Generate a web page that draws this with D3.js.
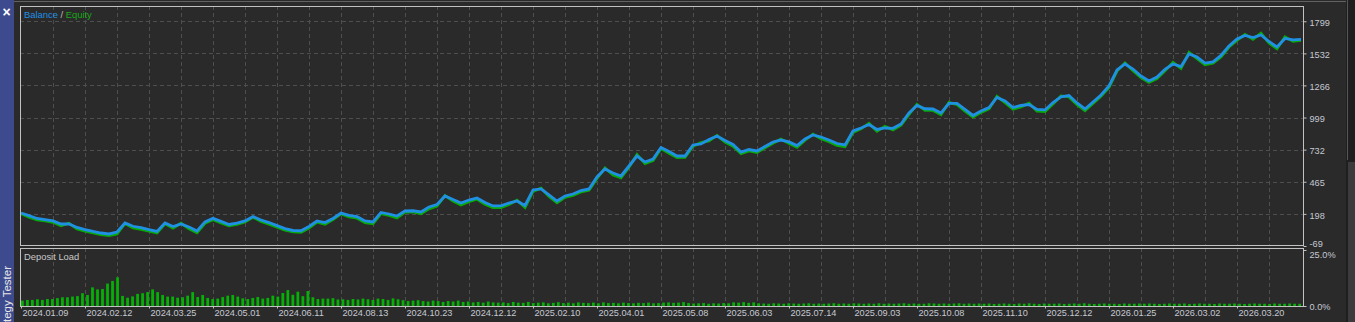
<!DOCTYPE html>
<html>
<head>
<meta charset="utf-8">
<script src="https://cdn.jsdelivr.net/npm/d3@7"></script>
<style>
    body { margin: 0; background: #2a2a2a; overflow: hidden; }
    text { font-family: "Liberation Sans", Arial, sans-serif; }
</style>
</head>
<body>
<div id="chart"></div>
<script>

var w = 1355,
    h = 322;

// balance per trade step
var balance = [
    205, 183, 160, 150, 139, 114, 114, 85, 68, 52, 39, 31, 47, 122, 95, 83,
    67, 52, 122, 93, 114, 89, 56, 131, 161, 136, 110, 122, 139, 176, 147, 126,
    100, 75, 60, 58, 93, 139, 126, 160, 205, 185, 175, 139, 131, 210, 197, 180,
    222, 224, 214, 255, 276, 347, 318, 288, 313, 330, 293, 264, 264, 288, 305, 268,
    397, 405, 355, 305, 347, 363, 392, 405, 505, 571, 538, 513, 596, 679, 629, 654,
    750, 717, 679, 679, 771, 779, 816, 845, 808, 775, 712, 733, 721, 758, 796, 812,
    796, 766, 820, 854, 837, 812, 783, 771, 887, 912, 941, 900, 912, 909, 945, 1037,
    1099, 1072, 1070, 1037, 1116, 1116, 1066, 1016, 1053, 1082, 1166, 1136, 1082, 1099, 1107, 1066,
    1062, 1124, 1170, 1182, 1120, 1070, 1128, 1186, 1261, 1394, 1444, 1402, 1344, 1303, 1336, 1400,
    1444, 1423, 1527, 1502, 1452, 1461, 1515, 1594, 1652, 1681, 1664, 1685, 1631, 1585, 1656, 1644,
    1648
];

// equity per trade step
var equity = [
    200, 170, 148, 140, 128, 100, 120, 72, 55, 40, 25, 18, 30, 118, 82, 70,
    55, 40, 115, 80, 120, 75, 42, 120, 150, 122, 98, 110, 130, 170, 135, 112,
    88, 62, 48, 45, 80, 130, 112, 150, 198, 172, 162, 125, 115, 200, 185, 165,
    212, 215, 200, 240, 262, 350, 305, 272, 300, 320, 278, 250, 250, 276, 312, 252,
    385, 412, 342, 290, 335, 352, 380, 395, 492, 580, 522, 498, 585, 690, 615, 640,
    742, 702, 665, 668, 760, 790, 805, 850, 795, 760, 698, 722, 708, 748, 785, 820,
    782, 752, 810, 860, 822, 798, 768, 756, 875, 905, 950, 885, 925, 895, 935, 1025,
    1108, 1058, 1058, 1022, 1125, 1105, 1052, 1002, 1042, 1070, 1175, 1122, 1068, 1088, 1118, 1052,
    1048, 1112, 1178, 1170, 1105, 1055, 1115, 1175, 1248, 1385, 1452, 1388, 1330, 1290, 1322, 1388,
    1458, 1408, 1540, 1488, 1438, 1450, 1502, 1585, 1640, 1690, 1650, 1700, 1618, 1570, 1670, 1632,
    1640
];

// deposit load in percent
var depositLoad = [
    2.4, 2.7, 2.7, 3.0, 2.7, 3.1, 3.1, 3.5, 3.9, 3.9, 4.2, 4.4, 5.7, 4.9, 8.3, 7.4,
    7.6, 10.0, 11.2, 12.8, 4.5, 3.7, 4.3, 5.4, 5.7, 6.2, 7.4, 6.2, 4.9, 4.2, 4.2, 3.7,
    3.9, 4.6, 6.2, 4.0, 4.9, 3.6, 3.1, 3.3, 4.0, 4.6, 4.9, 4.2, 3.4, 3.1, 3.6, 4.0,
    3.3, 3.6, 4.6, 4.2, 5.8, 7.1, 5.0, 6.4, 4.4, 6.7, 3.9, 3.1, 3.3, 3.3, 3.5, 2.9,
    3.0, 2.7, 3.1, 2.9, 3.3, 3.0, 2.7, 3.3, 3.1, 2.7, 3.4, 3.0, 2.6, 2.2, 2.4, 2.6,
    2.2, 2.0, 2.4, 2.2, 1.8, 2.2, 2.0, 2.4, 1.8, 2.0, 1.6, 1.8, 1.5, 2.0, 1.6, 1.5,
    1.6, 1.3, 1.8, 1.5, 1.4, 1.8, 1.3, 1.5, 1.6, 1.2, 1.4, 1.7, 1.3, 1.5, 1.2, 1.6,
    1.4, 1.3, 1.5, 1.2, 1.6, 1.3, 1.4, 1.2, 1.5, 1.3, 1.2, 1.4, 1.3, 1.5, 1.2, 1.3,
    1.5, 1.6, 1.4, 1.5, 1.7, 1.3, 1.1, 1.2, 1.3, 1.0, 1.2, 1.1, 1.3, 1.2, 1.6, 1.5,
    1.7, 1.4, 1.6, 1.2, 1.1, 1.0, 1.2, 1.1, 1.0, 1.2, 1.1, 1.0, 1.1, 1.2, 1.0, 1.1,
    1.0, 1.1, 1.2, 1.0, 1.1, 1.0, 1.2, 1.1, 1.0, 1.1, 1.0, 1.2, 1.0, 1.1, 1.0, 1.1,
    1.2, 1.0, 1.1, 1.0, 1.0, 1.2, 1.1, 1.0, 1.1, 1.0, 1.1, 1.2, 1.0, 1.1, 1.0, 1.1,
    1.0, 1.1, 0.9, 1.0, 1.1, 1.0, 0.9, 1.1, 1.0, 1.2, 1.0, 0.9, 1.1, 1.0, 1.0, 1.1,
    0.9, 1.0, 1.1, 1.0, 1.2, 1.0, 0.9, 1.0, 1.1, 1.0, 1.0, 0.9, 1.1, 1.0, 1.0, 1.1,
    1.0, 1.1, 1.0, 0.9, 1.0, 1.1, 1.0, 1.0, 1.1, 0.9, 1.0, 1.1, 1.0, 1.0, 0.9, 1.1,
    1.0, 1.0, 1.1, 1.0, 0.9, 1.0, 1.1, 1.0, 1.0, 0.9, 1.1, 1.0, 1.0, 1.1, 1.0, 1.0
];

// date labels along the bottom
var dateLabels = [
    "2024.01.09", "2024.02.12", "2024.03.25", "2024.05.01", "2024.06.11",
    "2024.08.13", "2024.10.23", "2024.12.12", "2025.02.10", "2025.04.01",
    "2025.05.08", "2025.06.03", "2025.07.14", "2025.09.03", "2025.10.08",
    "2025.11.10", "2025.12.12", "2026.01.25", "2026.03.02", "2026.03.20"
];
var labelStep = 8;

// right axis values
var yTicks = [-69, 198, 465, 732, 999, 1266, 1532, 1799];
var loadTicks = [0, 25];

// panel frames
var left = 20,
    right = 1303,
    mainTop = 6,
    mainBottom = 246,
    loadTop = 248,
    loadBottom = 306;

var svg = d3.select("#chart").append("svg")
    .attr("width", w)
    .attr("height", h);

svg.append("rect")
    .attr("width", w)
    .attr("height", h)
    .attr("fill", "#2a2a2a");

// scales
var x = d3.scaleLinear()
    .domain([0, balance.length - 1])
    .range([left + 1, right - 2]);

var y = d3.scaleLinear()
    .domain([-69, 1926])
    .range([mainBottom, mainTop]);

var yLoad = d3.scaleLinear()
    .domain([0, 25])
    .range([loadBottom, loadTop + 2]);

var xBar = d3.scaleBand()
    .domain(d3.range(depositLoad.length))
    .range([left + 1, right - 2])
    .paddingInner(0.45);

// grid lines
var grid = svg.append("g")
    .attr("stroke", "#4e4e4e")
    .attr("stroke-dasharray", "4,3");

d3.range(4, balance.length - 1, 4).forEach(function(i) {
    grid.append("line")
        .attr("x1", Math.round(x(i)) + 0.5)
        .attr("x2", Math.round(x(i)) + 0.5)
        .attr("y1", mainTop)
        .attr("y2", mainBottom);
    grid.append("line")
        .attr("x1", Math.round(x(i)) + 0.5)
        .attr("x2", Math.round(x(i)) + 0.5)
        .attr("y1", loadTop)
        .attr("y2", loadBottom);
});

yTicks.slice(1).forEach(function(v) {
    grid.append("line")
        .attr("x1", left)
        .attr("x2", right)
        .attr("y1", Math.round(y(v)) + 0.5)
        .attr("y2", Math.round(y(v)) + 0.5);
});

// equity under balance
var line = d3.line()
    .x(function(d, i) { return x(i); })
    .y(function(d) { return y(d); });

svg.append("path")
    .attr("d", line(equity))
    .attr("fill", "none")
    .attr("stroke", "#08a808")
    .attr("stroke-width", 2.8);

svg.append("path")
    .attr("d", line(balance))
    .attr("fill", "none")
    .attr("stroke", "#1f90e4")
    .attr("stroke-width", 2.8);

// deposit load bars
svg.append("g")
    .selectAll("rect")
    .data(depositLoad)
    .enter().append("rect")
    .attr("x", function(d, i) { return xBar(i); })
    .attr("width", xBar.bandwidth())
    .attr("y", function(d) { return yLoad(d); })
    .attr("height", function(d) { return loadBottom - yLoad(d); })
    .attr("fill", "#07b007");

// frames
svg.append("rect")
    .attr("x", left + 0.5)
    .attr("y", mainTop + 0.5)
    .attr("width", right - left)
    .attr("height", mainBottom - mainTop - 1)
    .attr("fill", "none")
    .attr("stroke", "#c2c2c2");

svg.append("rect")
    .attr("x", left + 0.5)
    .attr("y", loadTop + 0.5)
    .attr("width", right - left)
    .attr("height", loadBottom - loadTop)
    .attr("fill", "none")
    .attr("stroke", "#c2c2c2");

// right axis
var yAxis = d3.axisRight(y)
    .tickValues(yTicks)
    .tickSize(3)
    .tickPadding(3)
    .tickFormat(function(d) { return String(d); });

var yg = svg.append("g")
    .attr("transform", "translate(" + (right + 0.5) + ",0)")
    .call(yAxis);

yg.select(".domain").remove();
yg.selectAll("line").attr("stroke", "#c2c2c2");
yg.selectAll("text")
    .attr("fill", "#c4c9d2")
    .attr("font-size", "9.2px")
    .attr("font-family", "Liberation Sans, Arial, sans-serif")
    .attr("dy", function(d) { return d === -69 ? "0.1em" : "0.45em"; });

var loadAxis = d3.axisRight(yLoad)
    .tickValues(loadTicks)
    .tickSize(3)
    .tickPadding(3)
    .tickFormat(function(d) { return d.toFixed(1) + "%"; });

var lg = svg.append("g")
    .attr("transform", "translate(" + (right + 0.5) + ",0)")
    .call(loadAxis);

lg.select(".domain").remove();
lg.selectAll("line").attr("stroke", "#c2c2c2");
lg.selectAll("text")
    .attr("fill", "#c4c9d2")
    .attr("font-size", "9.2px")
    .attr("font-family", "Liberation Sans, Arial, sans-serif")
    .attr("dy", function(d) { return d === 25 ? "0.85em" : "0.35em"; });

// bottom axis with dates
var xAxis = d3.axisBottom(x)
    .tickValues(d3.range(0, dateLabels.length * labelStep, labelStep))
    .tickSize(2)
    .tickPadding(1)
    .tickFormat(function(d) { return dateLabels[d / labelStep]; });

var xg = svg.append("g")
    .attr("transform", "translate(0," + (loadBottom + 0.5) + ")")
    .call(xAxis);

xg.select(".domain").remove();
xg.selectAll("line").attr("stroke", "#c2c2c2");
xg.selectAll("text")
    .attr("fill", "#c4c9d2")
    .attr("font-size", "9.2px")
    .attr("font-family", "Liberation Sans, Arial, sans-serif")
    .attr("text-anchor", "start")
    .attr("dx", 1);

// legend
var legend = svg.append("text")
    .attr("x", 24)
    .attr("y", 18)
    .attr("font-size", "9.4px");

legend.append("tspan").attr("fill", "#1f90e4").text("Balance");
legend.append("tspan").attr("fill", "#bdbdbd").text(" / ");
legend.append("tspan").attr("fill", "#1aa81a").text("Equity");

svg.append("text")
    .attr("x", 24)
    .attr("y", 260)
    .attr("font-size", "9.4px")
    .attr("fill", "#c8c8c8")
    .text("Deposit Load");

// window chrome
svg.append("line")
    .attr("x1", 14)
    .attr("x2", 1347)
    .attr("y1", 1.5)
    .attr("y2", 1.5)
    .attr("stroke", "#626262");

svg.append("rect")
    .attr("x", 1346)
    .attr("y", 0)
    .attr("width", 9)
    .attr("height", h)
    .attr("fill", "#1f1f1f");

svg.append("line")
    .attr("x1", 1347.5)
    .attr("x2", 1347.5)
    .attr("y1", 0)
    .attr("y2", 160)
    .attr("stroke", "#555");

svg.append("rect")
    .attr("x", 1348)
    .attr("y", 162)
    .attr("width", 7)
    .attr("height", h - 162)
    .attr("fill", "#3b3b3b");

// side tab
svg.append("rect")
    .attr("width", 14)
    .attr("height", h)
    .attr("fill", "#3d4b8e");

svg.append("text")
    .attr("x", 6.5)
    .attr("y", 17)
    .attr("text-anchor", "middle")
    .attr("font-size", "14px")
    .attr("font-weight", "bold")
    .attr("fill", "#ffffff")
    .text("×");

svg.append("text")
    .attr("transform", "translate(10.5,266) rotate(-90)")
    .attr("text-anchor", "end")
    .attr("font-size", "11.5px")
    .attr("fill", "#e6e6e6")
    .text("Strategy Tester");

</script>
</body>
</html>
